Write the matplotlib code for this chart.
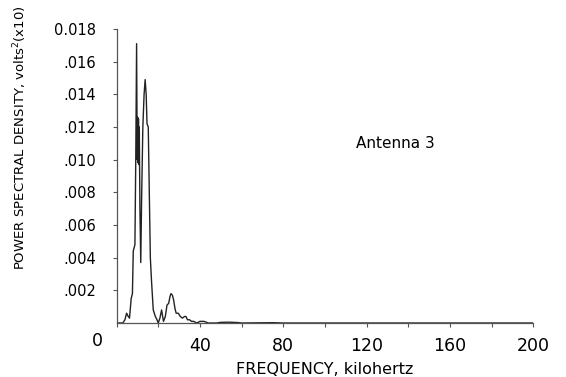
import matplotlib
matplotlib.use("Agg")
import matplotlib.pyplot as plt

# spectre (kHz, volts^2 x10)
freq = [0, 3, 4, 4.8, 5.6, 6.2, 7.0, 7.6, 8.0, 8.8, 9.2, 9.6, 9.9, 10.1, 10.3,
        10.5, 10.7, 10.9, 11.2, 11.6, 12.0, 12.6, 13.2, 13.7, 14.2, 14.6, 15.2,
        15.7, 16.2, 16.8, 17.6, 18.6, 19.4, 20.0, 20.8, 21.6, 22.5, 23.4, 24.2,
        25.0, 25.6, 26.1, 26.8, 27.4, 28.0, 28.6, 29.6, 30.6, 31.6, 32.6, 33.3,
        34.0, 35.0, 36.0, 37.0, 38.5, 40, 42, 44, 48, 50, 54, 58, 60, 75, 80, 200]
psd = [0, 0, 0.0002, 0.0006, 0.0004, 0.0003, 0.0015, 0.0018, 0.0044, 0.0048,
       0.0100, 0.0171, 0.0100, 0.0126, 0.0098, 0.0125, 0.0097, 0.0120, 0.0070,
       0.0037, 0.0075, 0.0120, 0.0140, 0.0149, 0.0140, 0.0122, 0.0120, 0.0080,
       0.0040, 0.0025, 0.0008, 0.0004, 0.0002, 0.0, 0.0003, 0.0008, 0.0001,
       0.0004, 0.0011, 0.0012, 0.0016, 0.0018, 0.0017, 0.0014, 0.0009, 0.0006,
       0.0006, 0.0004, 0.0003, 0.0004, 0.0004, 0.0002, 0.0002, 0.0001, 0.0001,
       0.0, 0.0001, 0.0001, 0.0, 0.0, 0.00004, 0.00005, 0.00003, 0.0, 0.00002,
       0.0, 0.0]

xticks = list(range(0, 201, 20))
xlabels = ["", "", "40", "", "80", "", "120", "", "160", "", "200"]
yticks = [0.002, 0.004, 0.006, 0.008, 0.010, 0.012, 0.014, 0.016, 0.018]
ylabels = [".002", ".004", ".006", ".008", ".010", ".012", ".014", ".016", "0.018"]

fig = plt.figure(figsize=(5.66, 3.77), dpi=100)
ax = fig.add_axes([0.206, 0.1432, 0.736, 0.78])

ax.plot(freq, psd, color="#222222", lw=1.0)
ax.set_xlim(0, 200)
ax.set_ylim(0, 0.018)

ax.spines["top"].set_visible(False)
ax.spines["right"].set_visible(False)
for s in ["left", "bottom"]:
    ax.spines[s].set_color("#555555")
    ax.spines[s].set_linewidth(0.9)

ax.set_xticks(xticks)
ax.set_xticklabels(xlabels)
ax.set_yticks(yticks)
ax.set_yticklabels(ylabels)
ax.tick_params(axis="x", direction="out", length=3, pad=7, labelsize=12.5, color="#555555")
ax.tick_params(axis="y", direction="out", length=3, pad=12, labelsize=10.5, color="#555555")

# le zéro commun du coin
ax.text(-0.045, -0.06, "0", transform=ax.transAxes, ha="center", va="center", fontsize=12.5)

ax.set_xlabel("FREQUENCY, kilohertz", fontsize=11.5, labelpad=5)
fig.text(0.036, 0.635, "POWER SPECTRAL DENSITY, volts$^2$(x10)", rotation=90,
         ha="center", va="center", fontsize=9.5)

ax.text(134, 0.0110, "Antenna 3", fontsize=11, ha="center", va="center")

fig.savefig("out.png", dpi=100)
